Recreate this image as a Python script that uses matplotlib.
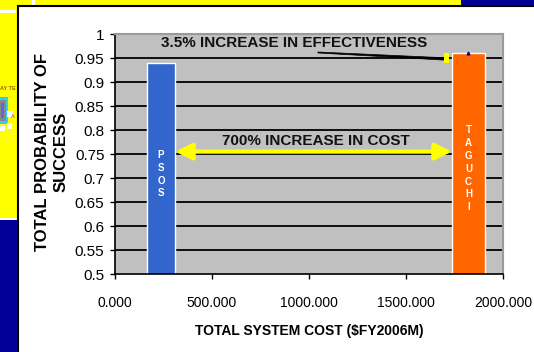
import matplotlib
matplotlib.use('Agg')
import matplotlib.pyplot as plt
from matplotlib.patches import Rectangle, FancyArrowPatch, Polygon
from matplotlib.ticker import FixedLocator, FuncFormatter

# ---- data ----
methods = ['PSOS', 'TAGUCHI']
cost = [237, 1822]            # total system cost ($FY2006M)
prob = [0.939, 0.960]         # total probability of success
x_ticks = [0, 500, 1000, 1500, 2000]
y_ticks = [0.5, 0.55, 0.6, 0.65, 0.7, 0.75, 0.8, 0.85, 0.9, 0.95, 1.0]

# ---- styles ----
bar_width = [148, 172]
bar_colors = ['#3366CC', '#FF6600']
NAVY = '#000099'
YELLOW = '#FFFF00'

plt.rcParams['font.family'] = ['Liberation Sans', 'DejaVu Sans']

W, H = 534, 352
fig = plt.figure(figsize=(W / 100, H / 100), dpi=100)
fig.patch.set_facecolor('white')


def px_rect(x0, y0, x1, y1, color, z=0):
    fig.add_artist(Rectangle((x0 / W, 1 - y1 / H), (x1 - x0) / W, (y1 - y0) / H,
                             transform=fig.transFigure, facecolor=color,
                             edgecolor='none', zorder=z))


# slide background around the chart box
px_rect(0, 0, 461, 5.5, YELLOW)
px_rect(461, 0, 534, 5.5, NAVY)
px_rect(0, 0, 18, 218, YELLOW)
px_rect(0, 219, 18, 352, NAVY)
px_rect(0, 218, 18, 219.5, 'white', 1)
px_rect(32, 0, 35, 5.5, 'white', 1)
px_rect(0, 10, 16, 12.5, 'white', 1)
# small icon remnant on the left
px_rect(0, 97, 8, 124, '#33CCFF', 1)
px_rect(0, 100, 6, 121, '#888888', 2)
px_rect(1, 103, 4, 118, '#6666CC', 3)
px_rect(7, 111, 13, 117, 'white', 2)
px_rect(7, 123, 12, 129, 'white', 2)
px_rect(0, 126, 5, 131, 'white', 2)
fig.text(0 / W, 1 - 88 / H, 'AY TE', fontsize=4, color='#996600',
         fontweight='bold', va='center', ha='left')
fig.text(11 / W, 1 - 117 / H, 'A', fontsize=4, color='#CC3300', va='center', ha='left')
# chart box borders
fig.add_artist(plt.Line2D([18 / W, 18 / W], [0, 1 - 5.5 / H], transform=fig.transFigure,
                          color='black', lw=1.5, zorder=3))
fig.add_artist(plt.Line2D([18 / W, 1], [1 - 6 / H, 1 - 6 / H], transform=fig.transFigure,
                          color='black', lw=1.5, zorder=3))

# ---- axes ----
ax = fig.add_axes([115 / W, 1 - 274 / H, 388 / W, 240 / H])
ax.set_facecolor('#C0C0C0')
ax.set_xlim(0, 2000)
ax.set_ylim(0.5, 1.0)

ax.bar(cost, prob, width=bar_width, color=bar_colors, edgecolor='white',
       linewidth=1.0, zorder=2)

ax.xaxis.set_major_locator(FixedLocator(x_ticks))
ax.yaxis.set_major_locator(FixedLocator(y_ticks))
ax.xaxis.set_major_formatter(FuncFormatter(lambda v, p: f'{v:.3f}'))
ax.yaxis.set_major_formatter(FuncFormatter(lambda v, p: f'{v:g}'))
ax.tick_params(axis='y', direction='out', length=3.6, width=1, pad=4, labelsize=11)
ax.tick_params(axis='x', direction='out', length=3.6, width=1, pad=12, labelsize=10)

ax.yaxis.grid(True, color='black', linewidth=1.3)
ax.set_axisbelow(True)
ax.get_ygridlines()[-1].set_visible(False)
ax.get_ygridlines()[0].set_visible(False)

for s in ['left', 'bottom']:
    ax.spines[s].set_color('black')
    ax.spines[s].set_linewidth(1.2)
for s in ['top', 'right']:
    ax.spines[s].set_color('#9A9A9A')
    ax.spines[s].set_linewidth(1.5)

ax.set_xlabel('TOTAL SYSTEM COST ($FY2006M)', fontsize=10, fontweight='bold', va='center')
ax.xaxis.set_label_coords(0.5, -0.239)
ax.set_ylabel('TOTAL PROBABILITY OF\nSUCCESS', fontsize=12, fontweight='bold',
              va='center', ha='center', linespacing=1.3)
ax.yaxis.set_label_coords(-0.162, 0.508)

# vertical labels inside bars
label_y = [0.708, 0.719]
for xc, name, ly in zip(cost, methods, label_y):
    ax.text(xc, ly, '\n'.join(name), color='white', fontsize=7, fontweight='bold',
            ha='center', va='center', linespacing=1.35, zorder=4)

# small marker at top of Taguchi bar
ax.plot([cost[1]], [prob[1]], marker='^', markersize=2, color='#000080',
        zorder=5, clip_on=False, linestyle='none')

# effectiveness annotation
ax.text(923, 0.981, '3.5% INCREASE IN EFFECTIVENESS', fontsize=11, fontweight='bold',
        ha='center', va='center', color='#111111', zorder=6)
ax.add_patch(Polygon([(1046, 0.9625), (1702, 0.9505), (1702, 0.9455), (1046, 0.9605)],
                     closed=True, facecolor='black', edgecolor='black', lw=0.5, zorder=5))
ax.add_patch(Rectangle((1698, 0.940), 24, 0.020, facecolor=YELLOW, edgecolor='none', zorder=5))

# cost annotation with double arrow between bars
x_left = cost[0] + bar_width[0] / 2
x_right = cost[1] - bar_width[1] / 2
arrow = FancyArrowPatch((x_left, 0.755), (x_right, 0.755),
                        arrowstyle='<|-|>,head_length=0.9,head_width=0.45',
                        mutation_scale=11, color=YELLOW, lw=3, shrinkA=0, shrinkB=0,
                        zorder=5)
ax.add_patch(arrow)
ax.text(1036, 0.777, '700% INCREASE IN COST', fontsize=11, fontweight='bold',
        ha='center', va='center', color='#111111', zorder=6)

fig.savefig('out.png', dpi=100)
